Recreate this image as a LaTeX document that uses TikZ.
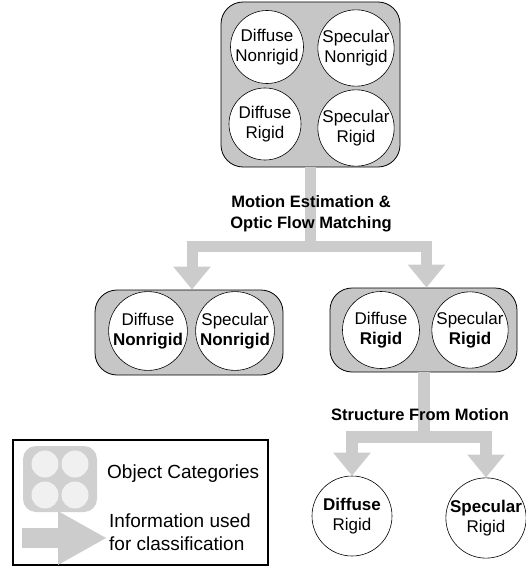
\documentclass[tikz,border=0pt]{standalone}
\usepackage{fontspec}
\setmainfont{Liberation Sans}
\usetikzlibrary{arrows.meta,calc}
\definecolor{boxgray}{HTML}{C6C6C6}
\definecolor{arrgray}{HTML}{CCCCCC}
\definecolor{icongray}{HTML}{D0D0D0}
\definecolor{icondot}{HTML}{F0F0F0}
\begin{document}
\begin{tikzpicture}[x=1pt,y=-1pt,
  catbox/.style={draw=black, line width=0.8pt, fill=boxgray, rounded corners=22pt, inner sep=0pt},
  cat/.style={circle, draw=black, line width=0.6pt, fill=white, inner sep=0pt, minimum size=#1, align=center,
              font=\fontsize{17}{20.5}\selectfont},
  cat/.default=74pt,
  flow/.style={draw=arrgray, line width=11pt, line join=miter, line cap=butt,
               -{Triangle[width=36pt,length=23pt]}},
  lbl/.style={align=center, font=\bfseries\fontsize{16.5}{21}\selectfont, inner sep=0pt},
  legtxt/.style={align=left, font=\fontsize{19}{23}\selectfont, inner sep=0pt, anchor=west}
]
\useasboundingbox (0,0) rectangle (525,567);

% ---------- top box ----------
\node[catbox, minimum width=179pt, minimum height=165pt] (top) at (310.5,84.5) {};
\node[cat=72pt] (dn) at (267,47) {Diffuse\\Nonrigid};
\node[cat=72pt] (sn) at (356,48) {Specular\\Nonrigid};
\node[cat=72pt] (dr) at (265,124) {Diffuse\\Rigid};
\node[cat=72pt] (sr) at (356,128) {Specular\\Rigid};

% ---------- middle boxes ----------
\node[catbox, minimum width=188pt, minimum height=85pt] (ml) at (189,332.5) {};
\node[cat=77pt] (mdn) at (148,331) {Diffuse\\\textbf{Nonrigid}};
\node[cat=75pt] (msn) at (235,331) {Specular\\\textbf{Nonrigid}};

\node[catbox, minimum width=187pt, minimum height=84pt] (mr) at (423.5,330) {};
\node[cat=77pt] (mdr) at (381,330) {Diffuse\\\textbf{Rigid}};
\node[cat=75pt] (msr) at (470,330) {Specular\\\textbf{Rigid}};

% ---------- bottom circles ----------
\node[cat=80pt] (bd) at (352,516) {\textbf{Diffuse}\\Rigid};
\node[cat=75pt] (bs) at (486,518) {\textbf{Specular}\\Rigid};

% ---------- flows ----------
\draw[flow] (top.south) -- ++(0,79) -| ([xshift=3pt]ml.north);
\draw[flow] (top.south) -- ++(0,79) -| ([xshift=3pt]mr.north);
\draw[flow, line width=12pt] (mr.south) -- ++(0,65) -| (bd.north);
\draw[flow, line width=12pt] (mr.south) -- ++(0,65) -| (bs.north);

\node[lbl] (l1) at (311,214) {Motion Estimation \&\\Optic Flow Matching};
\node[lbl] (l2) at (420,415) {Structure From Motion};

% ---------- legend ----------
\node[draw=black, line width=2.5pt, minimum width=255pt, minimum height=125pt, inner sep=0pt] (leg) at (140.5,502.5) {};
\node[fill=icongray, rounded corners=13pt, minimum width=74pt, minimum height=66pt, inner sep=0pt] (icon) at (60,479) {};
\node[circle, fill=icondot, minimum size=27pt, inner sep=0pt] (i1) at (45,464) {};
\node[circle, fill=icondot, minimum size=27pt, inner sep=0pt] (i2) at (75,464) {};
\node[circle, fill=icondot, minimum size=27pt, inner sep=0pt] (i3) at (45,495) {};
\node[circle, fill=icondot, minimum size=27pt, inner sep=0pt] (i4) at (75,495) {};
\node[legtxt] (t1) at (107,474) {Object Categories};
\coordinate (la1) at (22,538);
\coordinate (la2) at (107,538);
\draw[draw=arrgray, line width=20pt, line cap=butt, -{Triangle[width=50pt,length=49pt]}] (la1) -- (la2);
\node[legtxt] (t2) at (109,532) {Information used\\for classification};
\end{tikzpicture}
\end{document}
